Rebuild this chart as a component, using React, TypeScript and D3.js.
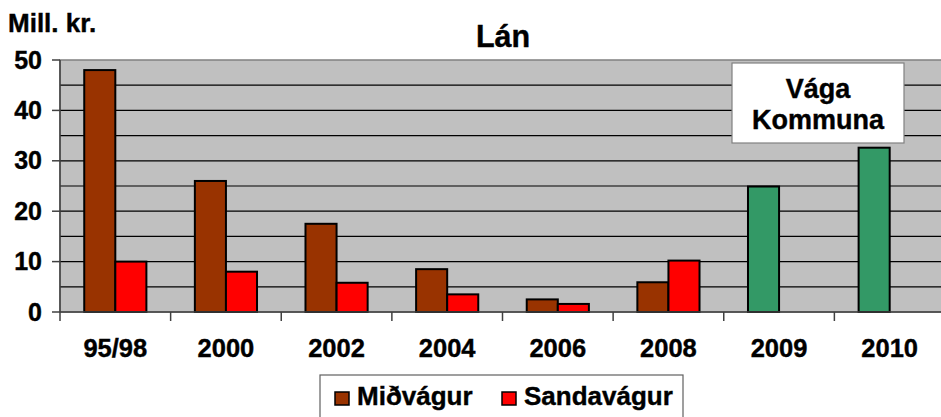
import React, { useRef, useEffect } from "react";
import * as d3 from "d3";

const categories = ["95/98", "2000", "2002", "2004", "2006", "2008", "2009", "2010"];
const seriesNames = ["Miðvágur", "Sandavágur"];
const midvagur = [48, 26, 17.5, 8.5, 2.5, 5.9, 24.9, 32.6];
const sandavagur: (number | null)[] = [10, 8, 5.8, 3.5, 1.6, 10.2, null, null];
const kommunaYears = ["2009", "2010"]; // Miðvágur slot drawn green for these
const yTicks = [0, 10, 20, 30, 40, 50];
const gridValues = [5, 10, 15, 20, 25, 30, 35, 40, 45];

const colors = ["#993300", "#FF0000"];
const green = "#339966";
const font = "'Liberation Sans', Arial, sans-serif";

const App: React.FC = () => {
  const ref = useRef<SVGSVGElement>(null);

  useEffect(() => {
    if (!ref.current) return;
    const svg = d3.select(ref.current);
    svg.selectAll("*").remove();

    const left = 60, right = 945, top = 60, bottom = 312;

    const x = d3.scaleBand().domain(categories).range([left, right]);
    const inner = d3.scaleBand().domain(seriesNames).range([0, x.bandwidth()]).paddingOuter(0.78);
    const y = d3.scaleLinear().domain([0, 50]).range([bottom, top]);

    // heavier bold text, like the original
    const label = (sel: d3.Selection<SVGTextElement, any, any, any>, size: number) =>
      sel.attr("font-family", font).attr("font-weight", "bold").attr("font-size", size)
        .attr("fill", "#000").attr("stroke", "#000").attr("stroke-width", 0.4);

    // plot background
    svg.append("rect")
      .attr("x", left).attr("y", top)
      .attr("width", right - left).attr("height", bottom - top)
      .attr("fill", "#C0C0C0").attr("stroke", "#808080").attr("stroke-width", 1.5);

    // gridlines
    svg.selectAll(".grid").data(gridValues).enter().append("line")
      .attr("x1", left).attr("x2", right)
      .attr("y1", (d) => y(d)).attr("y2", (d) => y(d))
      .attr("stroke", "#000").attr("stroke-width", 1.2);

    // bars
    const rows = categories.map((c, i) => ({ c, vals: [midvagur[i], sandavagur[i]] }));
    rows.forEach((r) => {
      r.vals.forEach((v, j) => {
        if (v == null) return;
        const fill = j === 0 && kommunaYears.includes(r.c) ? green : colors[j];
        svg.append("rect")
          .attr("x", (x(r.c) ?? 0) + (inner(seriesNames[j]) ?? 0))
          .attr("y", y(v))
          .attr("width", inner.bandwidth())
          .attr("height", bottom - y(v))
          .attr("fill", fill)
          .attr("stroke", "#000").attr("stroke-width", 2);
      });
    });

    // axes
    svg.append("line").attr("x1", left).attr("x2", left).attr("y1", top).attr("y2", bottom)
      .attr("stroke", "#404040").attr("stroke-width", 1.5);
    svg.append("line").attr("x1", left).attr("x2", right).attr("y1", bottom).attr("y2", bottom)
      .attr("stroke", "#404040").attr("stroke-width", 1.5);

    svg.selectAll(".ytick").data(yTicks).enter().append("line")
      .attr("x1", 52).attr("x2", left).attr("y1", (d) => y(d)).attr("y2", (d) => y(d))
      .attr("stroke", "#404040").attr("stroke-width", 1.5);
    label(svg.selectAll(".ylab").data(yTicks).enter().append("text")
      .attr("x", 42).attr("y", (d) => y(d) + 8.5)
      .attr("text-anchor", "end")
      .text((d) => d) as any, 25);

    const bounds = categories.map((c) => x(c) ?? 0).concat([right]);
    svg.selectAll(".xtick").data(bounds).enter().append("line")
      .attr("x1", (d) => d).attr("x2", (d) => d).attr("y1", bottom).attr("y2", bottom + 9)
      .attr("stroke", "#404040").attr("stroke-width", 1.5);
    label(svg.selectAll(".xlab").data(categories).enter().append("text")
      .attr("x", (d) => (x(d) ?? 0) + x.bandwidth() / 2)
      .attr("y", 357)
      .attr("text-anchor", "middle")
      .text((d) => d) as any, 25.5);

    // titles
    label(svg.append("text").attr("x", 503).attr("y", 47).attr("text-anchor", "middle").text("Lán"), 30.5);
    label(svg.append("text").attr("x", 8).attr("y", 32).text("Mill. kr."), 26);

    // annotation box
    svg.append("rect").attr("x", 732).attr("y", 63).attr("width", 172).attr("height", 80)
      .attr("fill", "#fff").attr("stroke", "#808080").attr("stroke-width", 1.2);
    label(svg.append("text").attr("x", 818).attr("y", 98).attr("text-anchor", "middle").text("Vága"), 27);
    label(svg.append("text").attr("x", 818).attr("y", 129).attr("text-anchor", "middle").text("Kommuna"), 27);

    // legend
    svg.append("rect").attr("x", 320).attr("y", 375).attr("width", 363).attr("height", 50)
      .attr("fill", "#fff").attr("stroke", "#606060").attr("stroke-width", 1.2);
    const legendX = [335, 502];
    seriesNames.forEach((s, i) => {
      svg.append("rect").attr("x", legendX[i]).attr("y", 392).attr("width", 14).attr("height", 13)
        .attr("fill", colors[i]).attr("stroke", "#000").attr("stroke-width", 1.5);
      label(svg.append("text").attr("x", legendX[i] + 22).attr("y", 405).text(s), 26);
    });
  }, []);

  return (
    <svg
      ref={ref}
      width={941}
      height={417}
      style={{ position: "absolute", left: 0, top: 0, background: "#fff" }}
    />
  );
};

export default App;
